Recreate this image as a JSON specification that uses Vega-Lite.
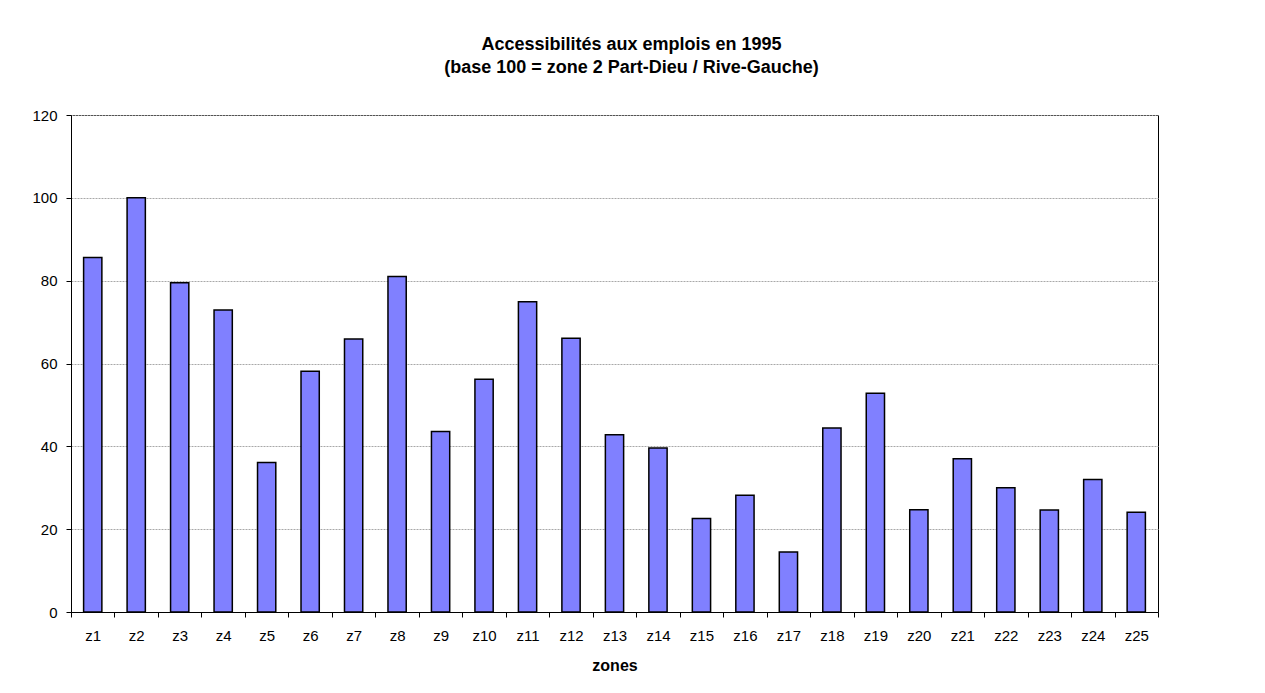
{
  "$schema": "https://vega.github.io/schema/vega-lite/v6.json",
  "width": 1087,
  "height": 497,
  "autosize": "none",
  "padding": {"left": 71, "top": 115, "right": 107, "bottom": 81},
  "background": "white",
  "title": {
    "text": ["Accessibilités aux emplois en 1995", "(base 100 = zone 2 Part-Dieu / Rive-Gauche)"],
    "font": "Liberation Sans",
    "fontSize": 18,
    "fontWeight": "bold",
    "color": "black",
    "anchor": "middle",
    "dx": 17,
    "offset": 31,
    "lineHeight": 23
  },
  "data": {
    "values": [
      {"zone": "z1", "value": 85.6},
      {"zone": "z2", "value": 100},
      {"zone": "z3", "value": 79.5},
      {"zone": "z4", "value": 72.9},
      {"zone": "z5", "value": 36.1},
      {"zone": "z6", "value": 58.1},
      {"zone": "z7", "value": 65.9},
      {"zone": "z8", "value": 81.0},
      {"zone": "z9", "value": 43.6},
      {"zone": "z10", "value": 56.2},
      {"zone": "z11", "value": 74.9},
      {"zone": "z12", "value": 66.1},
      {"zone": "z13", "value": 42.8},
      {"zone": "z14", "value": 39.6},
      {"zone": "z15", "value": 22.6},
      {"zone": "z16", "value": 28.2},
      {"zone": "z17", "value": 14.5},
      {"zone": "z18", "value": 44.4},
      {"zone": "z19", "value": 52.8},
      {"zone": "z20", "value": 24.7},
      {"zone": "z21", "value": 37.0},
      {"zone": "z22", "value": 30.0},
      {"zone": "z23", "value": 24.6},
      {"zone": "z24", "value": 32.0},
      {"zone": "z25", "value": 24.1}
    ]
  },
  "mark": {"type": "bar", "fill": "#8080ff", "stroke": "black", "strokeWidth": 1.5, "width": {"band": 0.42}},
  "encoding": {
    "x": {
      "field": "zone",
      "type": "nominal",
      "sort": null,
      "title": "zones",
      "scale": {"paddingInner": 0, "paddingOuter": 0},
      "axis": {
        "labelAngle": 0,
        "tickBand": "extent",
        "tickSize": 5,
        "domainColor": "black",
        "tickColor": "black",
        "labelFont": "Liberation Sans",
        "labelFontSize": 15,
        "labelColor": "black",
        "labelPadding": 11,
        "titleFont": "Liberation Sans",
        "titleFontSize": 16,
        "titleFontWeight": "bold",
        "titleColor": "black",
        "titlePadding": 14
      }
    },
    "y": {
      "field": "value",
      "type": "quantitative",
      "title": null,
      "scale": {"domain": [0, 120]},
      "axis": {
        "values": [0, 20, 40, 60, 80, 100, 120],
        "grid": true,
        "gridColor": "#a8a8a8",
        "gridDash": [2, 1],
        "tickSize": 5,
        "domainColor": "black",
        "tickColor": "black",
        "labelFont": "Liberation Sans",
        "labelFontSize": 15,
        "labelColor": "black",
        "labelPadding": 9
      }
    }
  },
  "config": {"view": {"stroke": "black", "strokeWidth": 1}}
}
